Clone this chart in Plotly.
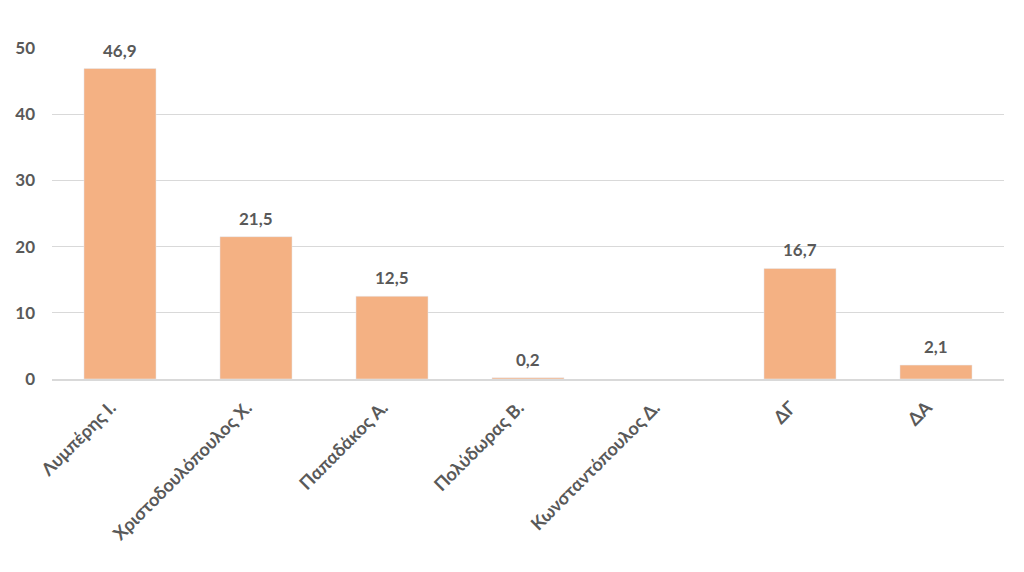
import plotly.graph_objects as go

categories = ["Λυμπέρης Ι.", "Χριστοδουλόπουλος Χ.", "Παπαδάκος Α.", "Πολύδωρας Β.",
              "Κωνσταντόπουλος Δ.", "ΔΓ", "ΔΑ"]
values = [46.9, 21.5, 12.5, 0.2, None, 16.7, 2.1]
labels = ["46,9", "21,5", "12,5", "0,2", "", "16,7", "2,1"]
yticks = [0, 10, 20, 30, 40, 50]

FONT = "Lato, 'Noto Sans', sans-serif"
GREY = "#595959"

fig = go.Figure(go.Bar(
    x=categories, y=values, marker_color="#F4B183", width=0.53,
    hoverinfo="x+y",
))

for c, v, t in zip(categories, values, labels):
    if v is None or not t:
        continue
    fig.add_annotation(x=c, y=v, text=t, showarrow=False, yanchor="bottom",
                       yshift=6, font=dict(family=FONT, size=17, color=GREY, weight="bold"))

fig.update_layout(
    width=1024, height=572,
    margin=dict(l=44, r=28, t=40, b=201),
    plot_bgcolor="white", paper_bgcolor="white",
    showlegend=False,
    font=dict(family=FONT, color=GREY),
)
fig.update_yaxes(range=[0, 50], tickvals=yticks, showgrid=True, gridcolor="#D9D9D9",
                 gridwidth=1, zeroline=False, showline=False, automargin=False,
                 tickfont=dict(family=FONT, size=17, color=GREY, weight="bold"),
                 ticklabelstandoff=16)
fig.update_xaxes(tickangle=-45, showline=True, linecolor="#D9D9D9", linewidth=1.5,
                 automargin=False,
                 tickvals=categories, ticktext=[c + "\u00a0" * 3 for c in categories],
                 tickfont=dict(family=FONT, size=18, color=GREY, weight="bold"),
                 ticks="", ticklabelstandoff=0)

fig.write_html("out.html")
